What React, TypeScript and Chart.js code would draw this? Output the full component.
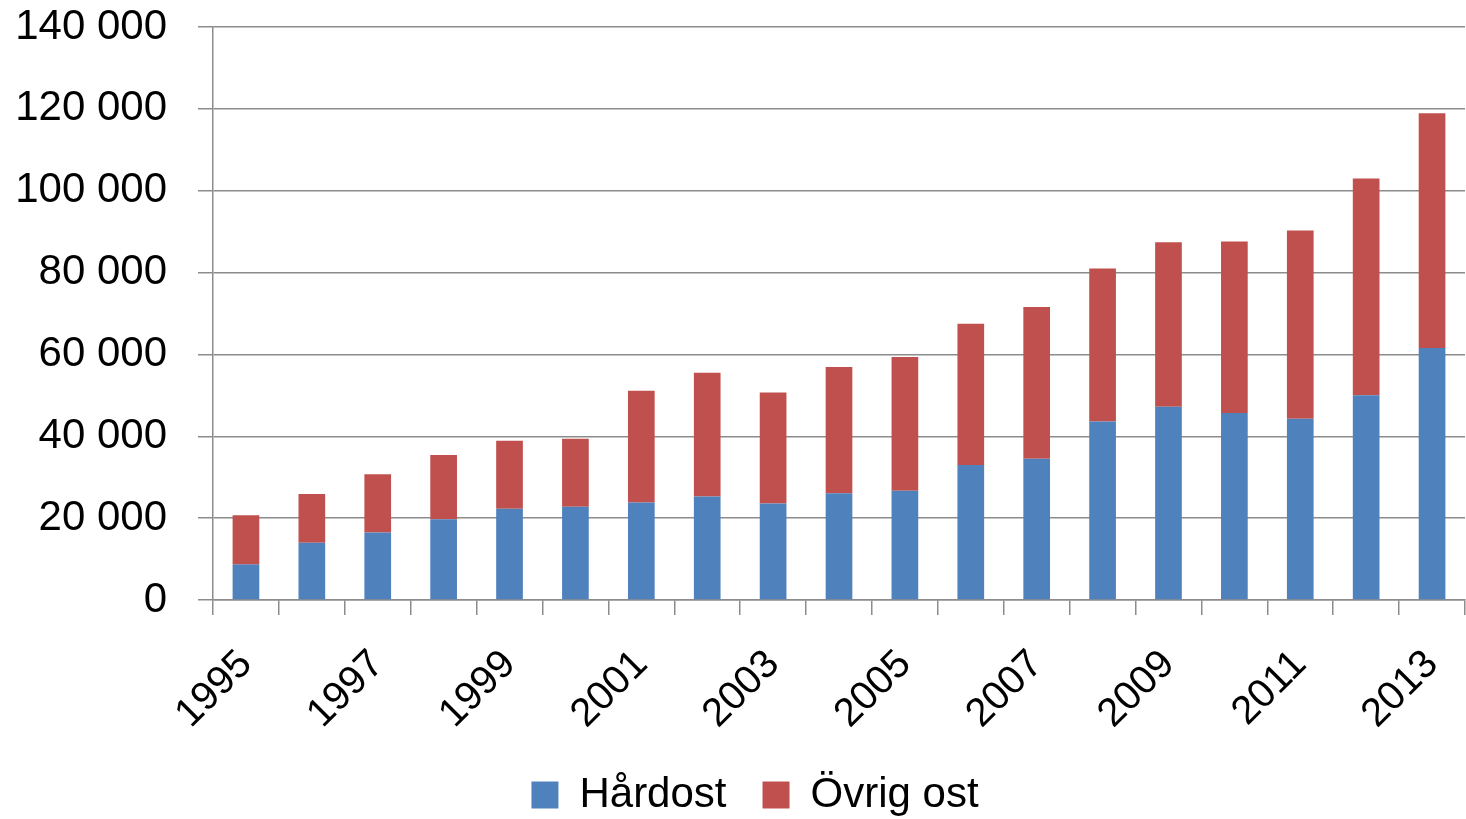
import React, { useEffect, useRef } from "react";
import { Chart, registerables } from "chart.js";

Chart.register(...registerables);

const years: string[] = [
  "1995", "1996", "1997", "1998", "1999", "2000", "2001", "2002", "2003", "2004",
  "2005", "2006", "2007", "2008", "2009", "2010", "2011", "2012", "2013",
];

const hardost: number[] = [
  8700, 14000, 16500, 19700, 22300, 22800, 23800, 25300, 23600, 26100,
  26700, 33000, 34500, 43600, 47200, 45700, 44300, 50000, 61600,
];

const ovrigOst: number[] = [
  12000, 11900, 14200, 15700, 16600, 16600, 27300, 30200, 27100, 30800,
  32700, 34500, 37100, 37400, 40200, 41900, 46000, 53000, 57300,
];

const seriesNames: string[] = ["Hårdost", "Övrig ost"];
const seriesColors: string[] = ["#4F81BD", "#C0504D"];

const FONT = "'Liberation Sans', Arial, sans-serif";
const GRID = "#8c8c8c";

function fmt(v: number): string {
  return String(v).replace(/\B(?=(\d{3})+(?!\d))/g, " ");
}

function noScalePadding(scale: any) {
  scale.paddingTop = 0;
  scale.paddingBottom = 0;
  scale.paddingLeft = 0;
  scale.paddingRight = 0;
}

const layoutFix = {
  id: "layoutFix",
  beforeLayout(chart: any) {
    const l = chart.legend;
    if (l && !l.__wrapped) {
      const orig = l.fit;
      l.fit = function () {
        orig.call(this);
        this.height = 81;
      };
      l.__wrapped = true;
    }
  },
  afterLayout(chart: any) {
    const l = chart.legend;
    if (l) {
      l.left += 15;
      l.right += 15;
    }
  },
};

export default function App() {
  const ref = useRef<HTMLCanvasElement | null>(null);

  useEffect(() => {
    if (!ref.current) return;
    const chart = new Chart(ref.current, {
      type: "bar",
      data: {
        labels: years,
        datasets: [
          {
            label: seriesNames[0],
            data: hardost,
            backgroundColor: seriesColors[0],
            barPercentage: 0.405,
            categoryPercentage: 1,
          },
          {
            label: seriesNames[1],
            data: ovrigOst,
            backgroundColor: seriesColors[1],
            barPercentage: 0.405,
            categoryPercentage: 1,
          },
        ],
      },
      options: {
        responsive: false,
        animation: false,
        layout: { autoPadding: false, padding: { left: 15, right: 1, top: 27, bottom: 0 } },
        scales: {
          x: {
            stacked: true,
            offset: true,
            afterFit: (s: any) => {
              noScalePadding(s);
              s.height = 138;
            },
            grid: {
              offset: true,
              drawOnChartArea: false,
              drawTicks: true,
              tickLength: 15,
              color: GRID,
              lineWidth: 1.5,
            },
            border: { color: GRID, width: 1.5 },
            ticks: {
              autoSkip: false,
              maxRotation: 45,
              minRotation: 45,
              padding: 26,
              color: "#000",
              font: { family: FONT, size: 40 },
              callback: (_v: any, i: number) => (i % 2 === 0 ? years[i] : ""),
            },
          },
          y: {
            stacked: true,
            min: 0,
            max: 140000,
            afterFit: (s: any) => {
              noScalePadding(s);
              s.width = 198;
            },
            grid: {
              color: GRID,
              lineWidth: 1.5,
              tickLength: 15,
            },
            border: { color: GRID, width: 1.5 },
            ticks: {
              stepSize: 20000,
              padding: 31,
              color: "#000",
              font: { family: FONT, size: 42 },
              callback: (v: any) => fmt(Number(v)),
            },
          },
        },
        plugins: {
          legend: {
            position: "bottom",
            labels: {
              boxWidth: 27,
              boxHeight: 27,
              padding: 36,
              color: "#000",
              font: { family: FONT, size: 42 },
            },
          },
          tooltip: { enabled: false },
        },
      },
      plugins: [layoutFix],
    });
    return () => chart.destroy();
  }, []);

  return (
    <div style={{ position: "absolute", left: 0, top: 0, width: 1466, height: 819, background: "#fff" }}>
      <canvas ref={ref} width={1466} height={819} />
    </div>
  );
}
